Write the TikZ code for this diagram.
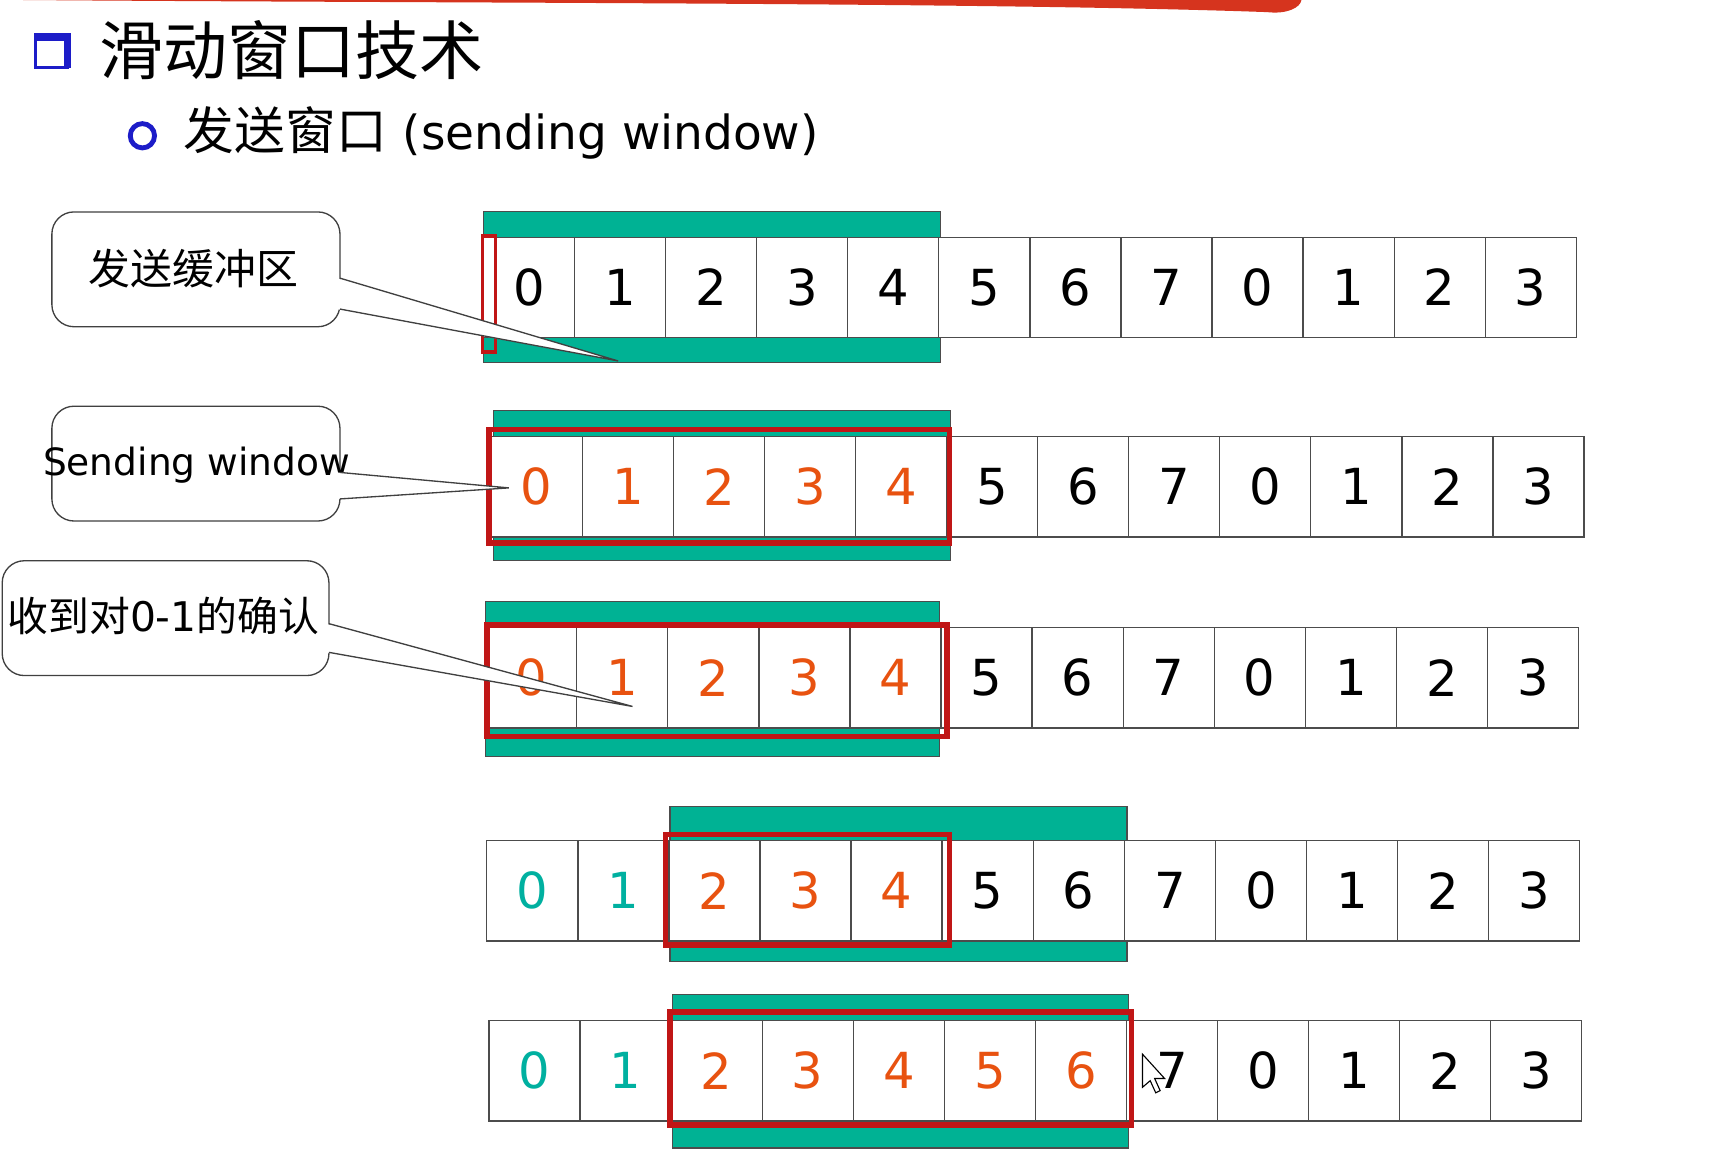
\documentclass[tikz,border=0pt]{standalone}
\usepackage{fontspec}
\setmainfont{DejaVu Sans}
\newfontfamily\cjk{Noto Sans CJK SC}
\definecolor{tealbar}{RGB}{0,178,148}
\definecolor{winred}{RGB}{192,22,22}
\definecolor{seqorange}{RGB}{232,82,16}
\definecolor{seqteal}{RGB}{0,176,160}
\definecolor{bulletblue}{RGB}{28,28,200}
\definecolor{strokered}{RGB}{214,52,30}
\tikzset{
  cell/.style={draw=black!70, line width=0.6pt, fill=white, minimum width=41.25pt,
    minimum height=45.5pt, inner sep=0pt, font=\fontsize{22.5pt}{27pt}\selectfont},
  greenbar/.style={fill=tealbar, draw=black!70, line width=0.5pt},
  winrect/.style={draw=winred, line width=2.5pt},
  callbox/.style={draw=black!75, line width=0.6pt, fill=white, rounded corners=10pt,
    minimum width=130.5pt, minimum height=52pt, inner sep=0pt},
  calltext/.style={inner sep=0pt},
  wedgeline/.style={draw=black!75, line width=0.6pt},
}
\newcommand\seqrow[4]{%
  \foreach \d/\c [count=\i from 0] in {#4}
    \node[cell, text=\c] (#1c\i) at ({#2+82.5*\i+41.25},#3) {\d};%
}
\begin{document}
\begin{tikzpicture}[x=0.5pt,y=-0.5pt]
\useasboundingbox[fill=white] (0,0) rectangle (1560,1047);

% red brush stroke at top
\fill[strokered] (20,0) .. controls (400,3) and (900,2) .. (1148,11)
  .. controls (1166,13) and (1178,7) .. (1179,0) -- cycle;

% title
\draw[bulletblue, line width=1.5pt] (32,34) rectangle (61,61);
\fill[bulletblue] (31,30) rectangle (64,37);
\fill[bulletblue] (58,30) rectangle (64,62);
\node[anchor=west, inner sep=0pt, font=\fontsize{29pt}{33pt}\selectfont] (title) at (90,45) {\cjk 滑动窗口技术};

% subtitle
\draw[bulletblue, line width=2.2pt] (129,123) circle (11);
\node[anchor=west, inner sep=0pt, font=\fontsize{23pt}{28pt}\selectfont] (subtitle) at (166,120)
  {{\cjk 发送窗口} {\fontsize{21.3pt}{28pt}\selectfont (sending window)}};

% ---- row 1
\fill[greenbar] (438,192) rectangle (852,328);
\seqrow{r1}{438}{260.5}{0/black,1/black,2/black,3/black,4/black,5/black,6/black,7/black,0/black,1/black,2/black,3/black}
\draw[draw=winred, line width=1.6pt] (437,214) rectangle (449,319);

% ---- row 2
\fill[greenbar] (447,372) rectangle (861,508);
\seqrow{r2}{445}{441}{0/seqorange,1/seqorange,2/seqorange,3/seqorange,4/seqorange,5/black,6/black,7/black,0/black,1/black,2/black,3/black}
\draw[winrect] (443,389) rectangle (860,492);

% ---- row 3
\fill[greenbar] (440,545) rectangle (851,685);
\seqrow{r3}{440}{614}{0/seqorange,1/seqorange,2/seqorange,3/seqorange,4/seqorange,5/black,6/black,7/black,0/black,1/black,2/black,3/black}
\draw[winrect] (441,566) rectangle (858,667);

% ---- row 4
\fill[greenbar] (607,731) rectangle (1021,871);
\seqrow{r4}{441}{807}{0/seqteal,1/seqteal,2/seqorange,3/seqorange,4/seqorange,5/black,6/black,7/black,0/black,1/black,2/black,3/black}
\draw[winrect] (603,756) rectangle (860,856);

% ---- row 5
\fill[greenbar] (609,901) rectangle (1022,1040);
\seqrow{r5}{443}{970}{0/seqteal,1/seqteal,2/seqorange,3/seqorange,4/seqorange,5/seqorange,6/seqorange,7/black,0/black,1/black,2/black,3/black}
\draw[winrect] (607,917) rectangle (1025,1019);

% mouse cursor
\draw[black, line width=0.5pt, fill=white] (1035,955) -- (1035,985) -- (1042,979) -- (1047,990)
  -- (1051,988) -- (1046,977) -- (1055,977) -- cycle;

% ---- callout 1
\node[callbox] (c1) at (177.5,244) {};
\node[calltext, font=\fontsize{19pt}{23pt}\selectfont] (t1) at (175,243) {\cjk 发送缓冲区};
\coordinate (c1a) at (308,252);
\coordinate (c1b) at (308,280);
\coordinate (c1tip) at (560,327);
\fill[white] (305,252) -- (c1tip) -- (305,280) -- cycle;
\draw[wedgeline] (c1a) -- (c1tip) -- (c1b);

% ---- callout 2
\node[callbox] (c2) at (177.5,420) {};
\node[calltext, font=\fontsize{17pt}{21pt}\selectfont] (t2) at (178,421) {Sending window};
\coordinate (c2a) at (308,428);
\coordinate (c2b) at (308,452);
\coordinate (c2tip) at (461,442);
\fill[white] (305,428) -- (c2tip) -- (305,452) -- cycle;
\draw[wedgeline] (c2a) -- (c2tip) -- (c2b);

% ---- callout 3
\node[callbox, minimum width=148pt] (c3) at (150,560) {};
\node[calltext, font=\fontsize{18.5pt}{22pt}\selectfont] (t3) at (148,558) {{\cjk 收到对}0-1{\cjk 的确认}};
\coordinate (c3a) at (298,565);
\coordinate (c3b) at (298,591);
\coordinate (c3tip) at (573,640);
\fill[white] (295,565) -- (c3tip) -- (295,591) -- cycle;
\draw[wedgeline] (c3a) -- (c3tip) -- (c3b);
\end{tikzpicture}
\end{document}
